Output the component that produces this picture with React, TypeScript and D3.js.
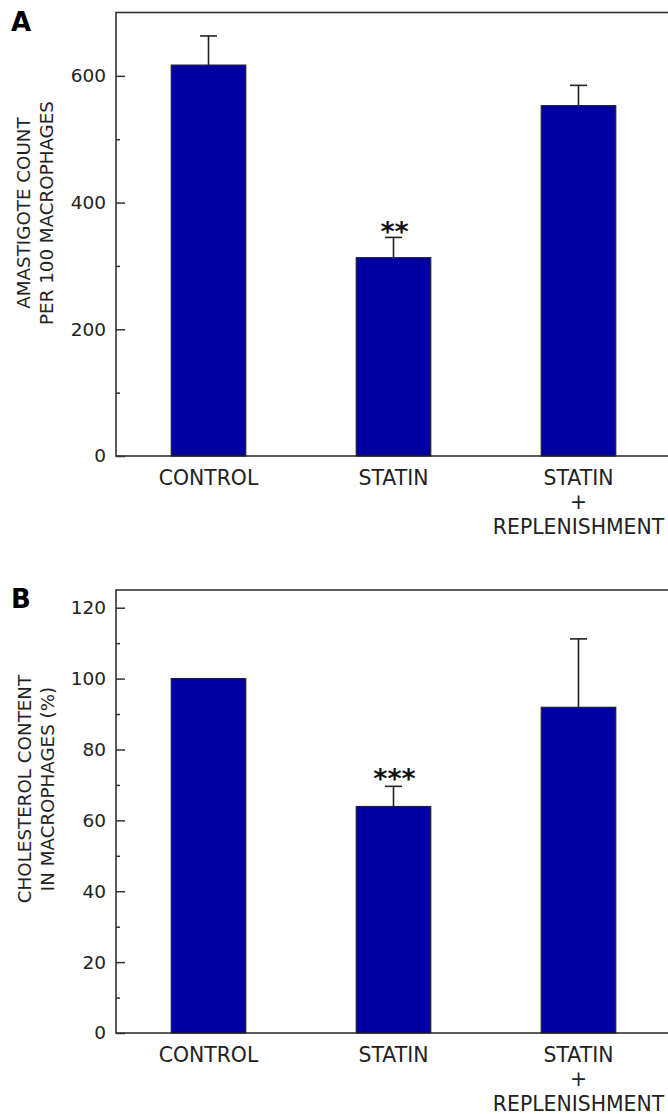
import React, { useEffect, useRef } from "react";
import * as d3 from "d3";

// groups along the x axis (multi-line labels)
const categoryLines = [["CONTROL"], ["STATIN"], ["STATIN", "+", "REPLENISHMENT"]];
const categories = ["control", "statin", "replenish"];

// panel A: amastigote count per 100 macrophages
const amastigoteMeans = [617, 313, 553];
const amastigoteErrors = [46, 32, 32];
const amastigoteMarks = ["", "**", ""];
const amastigoteTicks = [0, 200, 400, 600];
const amastigoteMinor = [100, 300, 500];

// panel B: cholesterol content (%)
const cholesterolMeans = [100, 63.9, 91.9];
const cholesterolErrors = [0, 5.7, 19.3];
const cholesterolMarks = ["", "***", ""];
const cholesterolTicks = [0, 20, 40, 60, 80, 100, 120];
const cholesterolMinor = [10, 30, 50, 70, 90, 110];

const W = 668;
const H = 1114;
const FONT = "DejaVu Sans, Verdana, sans-serif";

function drawPanel(g, opts) {
  const { top, bottom, yMax, means, errors, marks, ticks, minor, letter, title, titleY, titleX, starGap } = opts;
  const left = 116;

  const x = d3
    .scaleBand()
    .domain(categories)
    .range([left, 671])
    .paddingInner(0.595)
    .paddingOuter(0.2975);
  const y = d3.scaleLinear().domain([0, yMax]).range([bottom, top]);

  // frame (right side runs off the page)
  g.append("rect")
    .attr("x", left)
    .attr("y", top)
    .attr("width", 600)
    .attr("height", bottom - top)
    .attr("fill", "none")
    .attr("stroke", "#333")
    .attr("stroke-width", 1.6);

  const bw = 74.5;
  const rows = categories.map((c, i) => ({ c, v: means[i], e: errors[i], m: marks[i] }));

  // error bars (drawn first, bar covers lower half)
  rows.forEach((d) => {
    if (!d.e) return;
    const cx = x(d.c) + x.bandwidth() / 2;
    g.append("line")
      .attr("x1", cx).attr("x2", cx)
      .attr("y1", y(d.v)).attr("y2", y(d.v + d.e))
      .attr("stroke", "#222").attr("stroke-width", 1.6);
    g.append("line")
      .attr("x1", cx - 8.5).attr("x2", cx + 8.5)
      .attr("y1", y(d.v + d.e)).attr("y2", y(d.v + d.e))
      .attr("stroke", "#222").attr("stroke-width", 1.6);
  });

  g.selectAll(".bar")
    .data(rows)
    .join("rect")
    .attr("class", "bar")
    .attr("x", (d) => x(d.c) + x.bandwidth() / 2 - bw / 2)
    .attr("y", (d) => y(d.v))
    .attr("width", bw)
    .attr("height", (d) => y(0) - y(d.v))
    .attr("fill", "#0000a0")
    .attr("stroke", "#222")
    .attr("stroke-width", 1.2);

  // significance stars
  rows.forEach((d) => {
    if (!d.m) return;
    const cx = x(d.c) + x.bandwidth() / 2;
    g.append("text")
      .attr("x", cx + 1)
      .attr("y", y(d.v + d.e) + starGap)
      .attr("text-anchor", "middle")
      .attr("font-family", FONT)
      .attr("font-weight", "bold")
      .attr("font-size", 27)
      .attr("fill", "#111")
      .text(d.m);
  });

  // y axis, ticks pointing inward
  const axis = g.append("g").attr("transform", `translate(${left},0)`);
  axis.call(
    d3.axisLeft(y).tickValues(ticks).tickSizeInner(-9).tickSizeOuter(0).tickPadding(10).tickFormat(d3.format("d"))
  );
  axis.select(".domain").remove();
  axis.selectAll("line").attr("stroke", "#333").attr("stroke-width", 1.5);
  axis.selectAll("text").attr("font-family", FONT).attr("font-size", 18.5).attr("fill", "#222");

  const minorAxis = g.append("g").attr("transform", `translate(${left},0)`);
  minorAxis.call(d3.axisLeft(y).tickValues(minor).tickSizeInner(-4).tickSizeOuter(0).tickFormat(() => ""));
  minorAxis.select(".domain").remove();
  minorAxis.selectAll("line").attr("stroke", "#333").attr("stroke-width", 1.5);

  // category labels
  categories.forEach((c, i) => {
    const t = g.append("text")
      .attr("x", x(c) + x.bandwidth() / 2)
      .attr("y", bottom + 28.5)
      .attr("text-anchor", "middle")
      .attr("font-family", FONT)
      .attr("font-size", 20.4)
      .attr("fill", "#222");
    categoryLines[i].forEach((line, j) => {
      t.append("tspan")
        .attr("x", x(c) + x.bandwidth() / 2)
        .attr("dy", j === 0 ? 0 : 24.5)
        .text(line);
    });
  });

  // y title
  title.forEach((line, j) => {
    g.append("text")
      .attr("transform", `translate(${titleX[j]},${titleY}) rotate(-90)`)
      .attr("text-anchor", "middle")
      .attr("font-family", FONT)
      .attr("font-size", 18.3)
      .attr("fill", "#222")
      .text(line);
  });

  // panel letter
  g.append("text")
    .attr("x", 11)
    .attr("y", top + 18)
    .attr("font-family", FONT)
    .attr("font-weight", "bold")
    .attr("font-size", 26)
    .attr("fill", "#000")
    .text(letter);
}

export default function App() {
  const svgRef = useRef(null);

  useEffect(() => {
    const svg = d3.select(svgRef.current);
    svg.selectAll("*").remove();

    drawPanel(svg.append("g"), {
      top: 12.5,
      bottom: 456,
      yMax: 700,
      means: amastigoteMeans,
      errors: amastigoteErrors,
      marks: amastigoteMarks,
      ticks: amastigoteTicks,
      minor: amastigoteMinor,
      letter: "A",
      title: ["AMASTIGOTE COUNT", "PER 100 MACROPHAGES"],
      titleY: 213,
      titleX: [30, 53],
      starGap: 4,
    });

    drawPanel(svg.append("g"), {
      top: 590,
      bottom: 1033,
      yMax: 125,
      means: cholesterolMeans,
      errors: cholesterolErrors,
      marks: cholesterolMarks,
      ticks: cholesterolTicks,
      minor: cholesterolMinor,
      letter: "B",
      title: ["CHOLESTEROL CONTENT", "IN MACROPHAGES (%)"],
      titleY: 789,
      titleX: [31, 54],
      starGap: 2,
    });
  }, []);

  return (
    <svg
      ref={svgRef}
      width={W}
      height={H}
      style={{ position: "absolute", left: 0, top: 0, background: "#fff" }}
    />
  );
}
